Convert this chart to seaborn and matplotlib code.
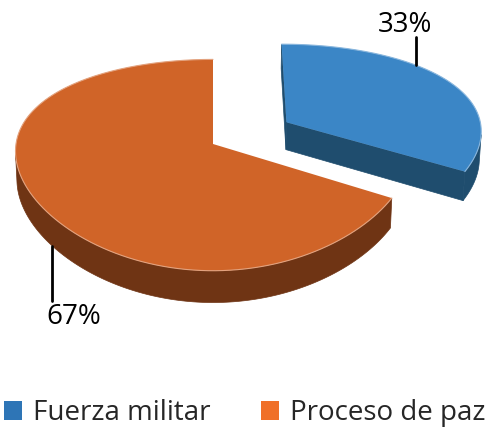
import numpy as np
import matplotlib
matplotlib.use("Agg")
import matplotlib.pyplot as plt
from matplotlib.patches import Patch
from matplotlib.colors import to_rgb
import seaborn as sns

# ---------------- data ----------------
categories = ["Fuerza militar", "Proceso de paz"]
values = [33, 67]
explode = [0.44, 0.0]

top_colors = ["#3B86C6", "#D06428"]
side_colors = ["#1F4D6E", "#6F3414"]
legend_colors = ["#2E75B6", "#F07028"]

# ---------------- 3-D view (pixels of the 496x429 canvas) ----------------
CX, CY = 213, 144      # where the pie centre lands
SCALE = 197            # px per unit radius
ELEV = np.radians(31)  # camera elevation
DIST_X = 12.0          # perspective strength, horizontal
DIST_Y = 4.3           # perspective strength, vertical
THICK = 0.17           # pie thickness (unit radius)
START = 90             # first slice starts at 12 o'clock, clockwise
N = 240

# leader lines: angle on the rim, height on the wall, length (px, - = up)
label_angle = [44, 218]
label_z = [0.0, -THICK]
label_len = [-28, 55]

sns.set_theme(style="white")
plt.rcParams["font.family"] = ["Open Sans", "DejaVu Sans"]


def project(x, y, z):
    depth = y * np.cos(ELEV) - z * np.sin(ELEV)
    up = y * np.sin(ELEV) + z * np.cos(ELEV)
    kx = DIST_X / (DIST_X + depth)
    ky = DIST_Y / (DIST_Y + depth)
    return CX + SCALE * x * kx, CY - SCALE * up * ky


def area(pts):
    p = np.asarray(pts)
    return np.sum(p[:, 0] * np.roll(p[:, 1], -1) - np.roll(p[:, 0], -1) * p[:, 1])


def lighten(c, amt=0.4):
    r = np.array(to_rgb(c))
    return tuple(r + (1 - r) * amt)


fig = plt.figure(figsize=(4.96, 4.29), dpi=100)
ax = fig.add_axes([0, 0, 1, 1])
ax.set_xlim(0, 496)
ax.set_ylim(429, 0)
ax.axis("off")

fracs = np.array(values) / np.sum(values)
edges = START - 360 * np.concatenate([[0], np.cumsum(fracs)])

slices = []
for i in range(len(values)):
    a0, a1 = edges[i], edges[i + 1]
    mid = np.radians((a0 + a1) / 2)
    ox, oy = explode[i] * np.cos(mid), explode[i] * np.sin(mid)
    slices.append((oy + 0.5 * np.sin(mid), i, a0, a1, ox, oy))

# far slices first
for _, i, a0, a1, ox, oy in sorted(slices, key=lambda s: -s[0]):
    th = np.radians(np.linspace(a0, a1, N))
    tx, ty = project(ox + np.cos(th), oy + np.sin(th), 0)
    bx, by = project(ox + np.cos(th), oy + np.sin(th), -THICK)
    c0 = project(ox, oy, 0)
    c1 = project(ox, oy, -THICK)

    # radial cut faces (only the ones turned to the viewer)
    start_face = [c0, (tx[0], ty[0]), (bx[0], by[0]), c1]
    end_face = [c0, c1, (bx[-1], by[-1]), (tx[-1], ty[-1])]
    for face in (start_face, end_face):
        if area(face) < 0:
            ax.add_patch(plt.Polygon(face, closed=True, fc=side_colors[i],
                                     ec=side_colors[i], lw=0.5))

    # outer wall: merge consecutive visible segments into one polygon
    vis = [area([(tx[j], ty[j]), (tx[j + 1], ty[j + 1]),
                 (bx[j + 1], by[j + 1]), (bx[j], by[j])]) < 0
           for j in range(N - 1)]
    j = 0
    while j < N - 1:
        if not vis[j]:
            j += 1
            continue
        k = j
        while k < N - 1 and vis[k]:
            k += 1
        xs = np.r_[tx[j:k + 1], bx[j:k + 1][::-1]]
        ys = np.r_[ty[j:k + 1], by[j:k + 1][::-1]]
        ax.fill(xs, ys, fc=side_colors[i], ec=side_colors[i], lw=0.5)
        j = k

    # top face
    ax.fill(np.r_[c0[0], tx], np.r_[c0[1], ty], color=top_colors[i], lw=0)
    ax.plot(tx, ty, color=lighten(top_colors[i]), lw=0.8)

# percentage labels with leader lines
for i in range(len(values)):
    a0, a1 = edges[i], edges[i + 1]
    mid = np.radians((a0 + a1) / 2)
    ox, oy = explode[i] * np.cos(mid), explode[i] * np.sin(mid)
    a = np.radians(label_angle[i])
    px, py = project(ox + np.cos(a), oy + np.sin(a), label_z[i])
    ax.plot([px, px], [py, py + label_len[i]], color="black", lw=2)
    if label_len[i] < 0:
        ax.text(px - 11, py + label_len[i] - 5, f"{values[i]}%", ha="center",
                va="baseline", fontsize=20, color="black")
    else:
        ax.text(px - 5, py + label_len[i] + 23, f"{values[i]}%", ha="left",
                va="baseline", fontsize=20, color="black")

handles = [Patch(facecolor=c, edgecolor="none", label=l)
           for c, l in zip(legend_colors, categories)]
fig.legend(handles=handles, loc="lower left", bbox_to_anchor=(0.0, -0.006),
           ncol=2, frameon=False, fontsize=20, handlelength=0.65,
           handleheight=0.65, handletextpad=0.4, columnspacing=1.8,
           borderpad=0.15, borderaxespad=0)

fig.savefig("out.png", dpi=100)
